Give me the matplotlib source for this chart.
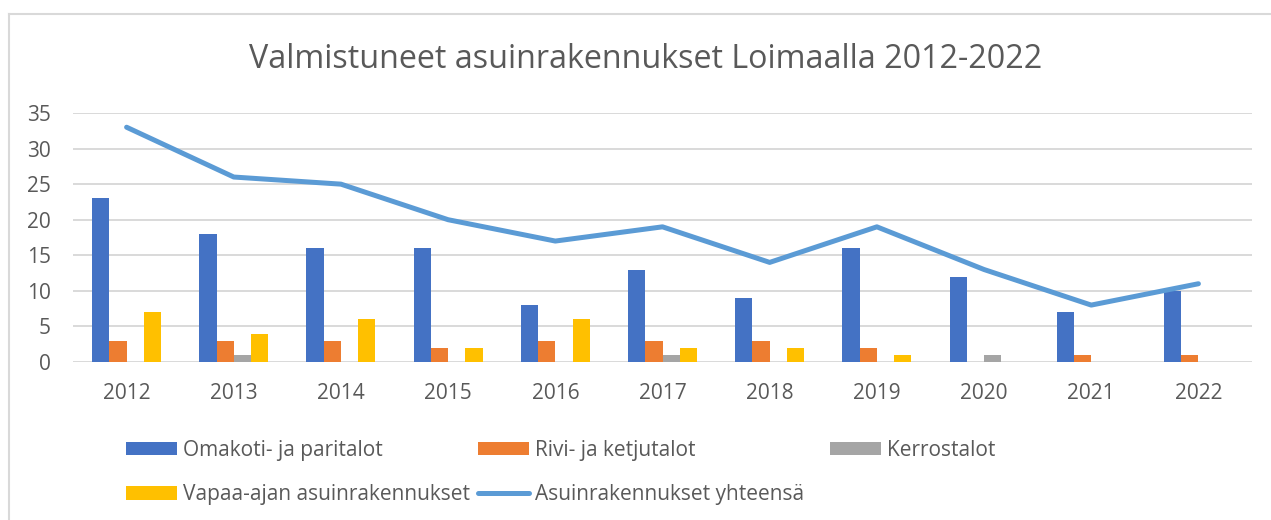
import numpy as np
import matplotlib
matplotlib.use("Agg")
import matplotlib.pyplot as plt
from matplotlib.lines import Line2D

# data
years = ["2012", "2013", "2014", "2015", "2016", "2017", "2018", "2019", "2020", "2021", "2022"]
omakoti = [23, 18, 16, 16, 8, 13, 9, 16, 12, 7, 10]
rivi = [3, 3, 3, 2, 3, 3, 3, 2, 0, 1, 1]
kerros = [0, 1, 0, 0, 0, 1, 0, 0, 1, 0, 0]
vapaa = [7, 4, 6, 2, 6, 2, 2, 1, 0, 0, 0]
yhteensa = [33, 26, 25, 20, 17, 19, 14, 19, 13, 8, 11]

series = [
    ("Omakoti- ja paritalot", omakoti, "#4472C4"),
    ("Rivi- ja ketjutalot", rivi, "#ED7D31"),
    ("Kerrostalot", kerros, "#A5A5A5"),
    ("Vapaa-ajan asuinrakennukset", vapaa, "#FFC000"),
]

plt.rcParams["font.family"] = ["Open Sans", "DejaVu Sans"]
text_color = "#595959"
grid_color = "#D9D9D9"
W, H = 1271, 520

fig = plt.figure(figsize=(W / 100, H / 100), dpi=100)
ax = fig.add_axes([73 / W, 1 - 362 / H, (1252 - 73) / W, (362 - 113) / H])

x = np.arange(len(years))
w = 0.161
handles = []
for i, (name, vals, color) in enumerate(series):
    b = ax.bar(x + (i - 1.5) * w, vals, width=w, color=color, label=name, zorder=2)
    handles.append(b)

(line,) = ax.plot(x, yhteensa, color="#5B9BD5", linewidth=3.6,
                  solid_capstyle="round", solid_joinstyle="round",
                  label="Asuinrakennukset yhteensä", zorder=3)
handles.append(line)

ax.set_xlim(-0.5, len(years) - 0.5)
ax.set_ylim(0, 35)
ax.set_yticks(np.arange(0, 36, 5))
ax.set_xticks(x)
ax.set_xticklabels(years)
ax.yaxis.grid(True, color=grid_color, linewidth=1.4, zorder=0)
ax.set_axisbelow(True)
for s in ax.spines.values():
    s.set_visible(False)
ax.tick_params(axis="both", length=0, labelsize=15, colors=text_color)
ax.tick_params(axis="y", pad=16)
ax.tick_params(axis="x", pad=15)

fig.text(0.508, 1 - 68 / H, "Valmistuneet asuinrakennukset Loimaalla 2012-2022",
         ha="center", va="baseline", fontsize=23.2, color=text_color)

# legend: three fixed-width columns like the original
columns = [([0, 3], 126), ([1, 4], 478), ([2], 830)]
for idx, left in columns:
    leg = fig.legend([handles[i] for i in idx],
                     [handles[i].get_label() for i in idx],
                     loc="upper left", bbox_to_anchor=(left / W, 1 - 440 / H),
                     frameon=False, fontsize=15, handlelength=2.45, handleheight=0.6,
                     handletextpad=0.3, labelspacing=1.12,
                     borderpad=0, borderaxespad=0)
    for t in leg.get_texts():
        t.set_color(text_color)

# chart frame (left and top edges)
fig.add_artist(Line2D([9 / W, 9 / W], [0, 1 - 14 / H], color=grid_color, linewidth=1.5))
fig.add_artist(Line2D([9 / W, 1], [1 - 14 / H, 1 - 14 / H], color=grid_color, linewidth=1.5))

fig.savefig("out.png", dpi=100)
plt.close(fig)
